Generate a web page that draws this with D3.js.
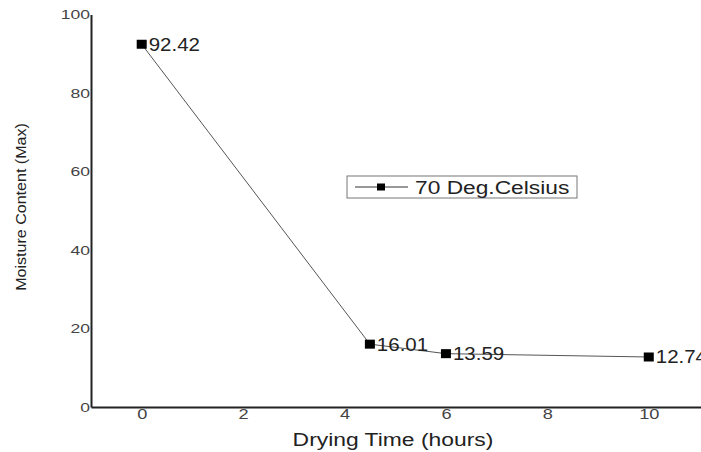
<!DOCTYPE html>
<html>
<head>
<meta charset="utf-8">
<script src="https://cdn.jsdelivr.net/npm/d3@7"></script>
<style>
  html, body { margin: 0; padding: 0; background: #fff; }
  svg { display: block; font-family: "Liberation Sans", Arial, sans-serif; }
</style>
</head>
<body>
<svg id="chart" width="701" height="452"></svg>
<script>
// Drying curve at 70 °C
const dryingHours = [0, 4.5, 6, 10];
const moisture = [92.42, 16.01, 13.59, 12.74];
const moistureLabels = ["92.42", "16.01", "13.59", "12.74"];
const xTicks = [0, 2, 4, 6, 8, 10];
const yTicks = [0, 20, 40, 60, 80, 100];
const seriesName = "70 Deg.Celsius";

const svg = d3.select("#chart");
const plot = { left: 91, bottom: 407, top: 14.5, right: 701 };

// widen glyphs horizontally by a factor (the chart uses a wide sans face)
function widen(sel, factor) {
  sel.each(function () {
    const w = this.getComputedTextLength();
    d3.select(this).attr("textLength", w * factor).attr("lengthAdjust", "spacingAndGlyphs");
  });
}

const x = d3.scaleLinear().domain([-1, 11.03]).range([plot.left, plot.right]);
const y = d3.scaleLinear().domain([0, 100]).range([plot.bottom, plot.top]);

// axes (no tick marks, labels only)
const xAxis = d3.axisBottom(x).tickValues(xTicks).tickSize(0).tickPadding(2);
const yAxis = d3.axisLeft(y).tickValues(yTicks).tickSize(0).tickPadding(1);

const gx = svg.append("g").attr("transform", `translate(0,${plot.bottom})`).call(xAxis);
const gy = svg.append("g").attr("transform", `translate(${plot.left},0)`).call(yAxis);

[gx, gy].forEach(g => {
  g.select(".domain").attr("stroke", "#222").attr("stroke-width", 2);
  g.selectAll("text").attr("fill", "#444")
    .attr("font-family", "Liberation Sans, Arial, sans-serif");
});
gx.selectAll("text").attr("font-size", 14);
gy.selectAll("text").attr("font-size", 13);
widen(gx.selectAll("text"), 1.3);
widen(gy.selectAll("text"), 1.35);

// axis titles
const xt = svg.append("text")
  .attr("x", 393).attr("y", 446)
  .attr("text-anchor", "middle")
  .attr("font-size", 18).attr("fill", "#222")
  .text("Drying Time (hours)");
widen(xt, 1.27);

const yt = svg.append("text")
  .attr("transform", "translate(26,207) rotate(-90)")
  .attr("text-anchor", "middle")
  .attr("font-size", 15).attr("fill", "#222")
  .text("Moisture Content (Max)");
widen(yt, 1.07);

// series line
const pts = dryingHours.map((h, i) => ({ h, m: moisture[i], label: moistureLabels[i] }));
svg.append("path")
  .datum(pts)
  .attr("fill", "none")
  .attr("stroke", "#555")
  .attr("stroke-width", 1)
  .attr("d", d3.line().x(d => x(d.h)).y(d => y(d.m)));

// markers
const mw = 10, mh = 9;
svg.selectAll("rect.pt").data(pts).join("rect")
  .attr("class", "pt")
  .attr("x", d => x(d.h) - mw / 2)
  .attr("y", d => y(d.m) - mh / 2)
  .attr("width", mw).attr("height", mh)
  .attr("fill", "#000");

// value labels
const vals = svg.selectAll("text.val").data(pts).join("text")
  .attr("class", "val")
  .attr("x", d => x(d.h) + 7)
  .attr("y", d => y(d.m) + 6.5)
  .attr("font-size", 17.5).attr("fill", "#222")
  .text(d => d.label);
widen(vals, 1.17);

// legend
const lg = svg.append("g").attr("transform", "translate(347,176)");
lg.append("rect").attr("width", 230).attr("height", 22)
  .attr("fill", "#fff").attr("stroke", "#777").attr("stroke-width", 1);
lg.append("line").attr("x1", 8).attr("x2", 61).attr("y1", 11).attr("y2", 11)
  .attr("stroke", "#333").attr("stroke-width", 1);
lg.append("rect").attr("x", 30).attr("y", 7.5).attr("width", 8).attr("height", 7).attr("fill", "#000");
const lt = lg.append("text").attr("x", 68).attr("y", 18)
  .attr("font-size", 17.5).attr("fill", "#222")
  .text(seriesName);
widen(lt, 1.3);
</script>
</body>
</html>
